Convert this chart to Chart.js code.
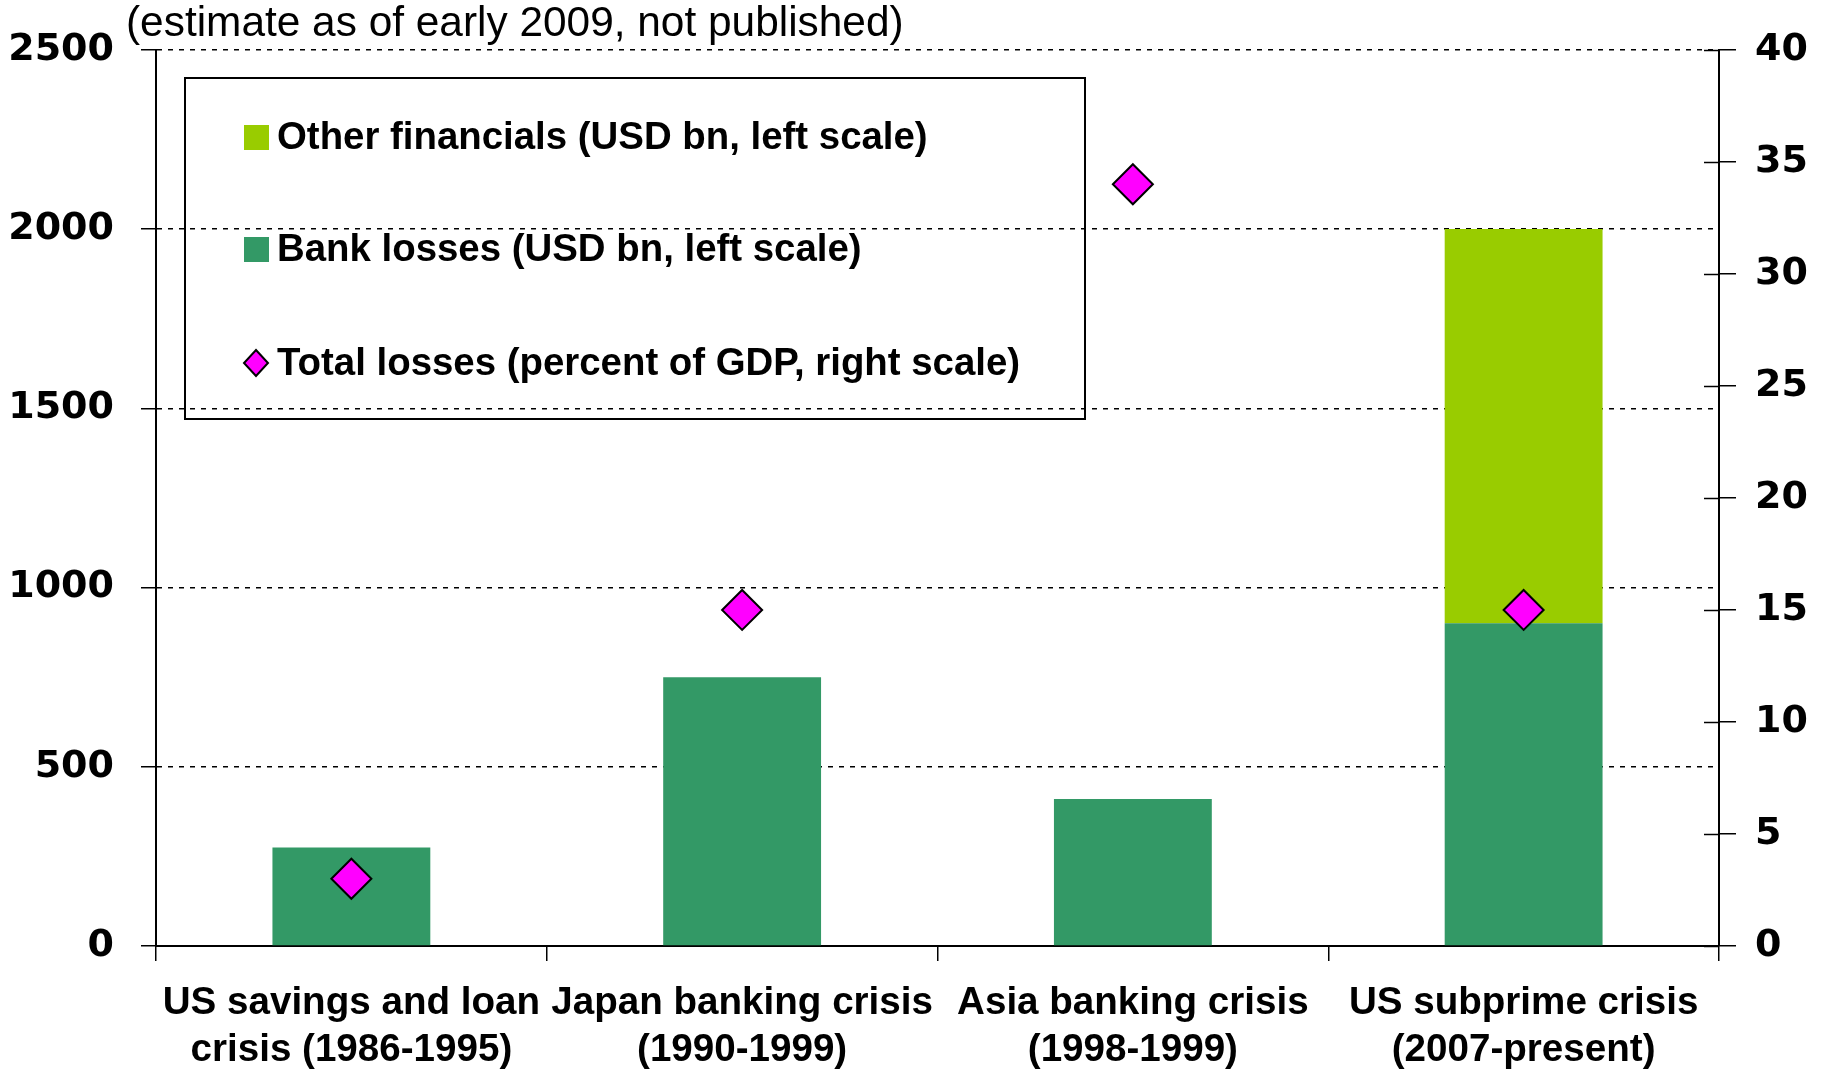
<!DOCTYPE html>
<html><head><meta charset="utf-8">
<script src="https://cdn.jsdelivr.net/npm/chart.js@4/dist/chart.umd.min.js"></script>
<style>html,body{margin:0;padding:0;background:#fff}canvas{display:block}</style>
</head><body>
<canvas id="c" width="1826" height="1071"></canvas>
<script>
// ---- data ----
const categories = [
  ["US savings and loan", "crisis (1986-1995)"],
  ["Japan banking crisis", "(1990-1999)"],
  ["Asia banking crisis", "(1998-1999)"],
  ["US subprime crisis", "(2007-present)"]
];
const bankLosses = [275, 750, 410, 900];
const otherFinancials = [null, null, null, 1100];
const totalLossesPctGDP = [3, 15, 34, 15];
const seriesNames = [
  "Bank losses (USD bn, left scale)",
  "Other financials (USD bn, left scale)",
  "Total losses (percent of GDP, right scale)"
];
const legendOrder = [1, 0, 2];
const leftAxis = { min: 0, max: 2500, step: 500 };
const rightAxis = { min: 0, max: 40, step: 5 };
const note = "(estimate as of early 2009, not published)";

// ---- styles ----
const FONT_TXT = "'Liberation Sans', Arial, sans-serif";
const FONT_NUM = "'DejaVu Sans', sans-serif";
const GREEN = '#339966', LIME = '#99CC00', MAGENTA = '#FF00FF';

const notePlugin = {
  id: 'note',
  afterDraw(chart) {
    const c = chart.ctx;
    c.save();
    c.fillStyle = '#000';
    c.font = `42.4px ${FONT_TXT}`;
    c.textBaseline = 'middle';
    c.textAlign = 'left';
    c.fillText(note, 126, 24);
    c.restore();
  }
};

const rightInnerTicks = {
  id: 'rightInnerTicks',
  afterDraw(chart) {
    const s = chart.scales.y1;
    const c = chart.ctx;
    c.save();
    c.strokeStyle = '#000';
    c.lineWidth = 1.5;
    s.ticks.forEach(t => {
      const y = Math.round(s.getPixelForValue(t.value)) + 0.5;
      c.beginPath();
      c.moveTo(s.left - 15, y);
      c.lineTo(s.left, y);
      c.stroke();
    });
    c.restore();
  }
};

const boxLegend = {
  id: 'boxLegend',
  afterDraw(chart) {
    const c = chart.ctx;
    c.save();
    c.strokeStyle = '#000';
    c.lineWidth = 2;
    c.strokeRect(185, 78, 900, 341);
    const rows = [137, 249, 363];
    legendOrder.forEach((di, i) => {
      const ds = chart.data.datasets[di];
      const y = rows[i];
      if (ds.type === 'bar') {
        c.fillStyle = ds.backgroundColor;
        c.fillRect(244, y - 12, 25, 25);
      } else {
        c.fillStyle = ds.pointBackgroundColor;
        c.strokeStyle = ds.pointBorderColor;
        c.lineWidth = 2;
        c.beginPath();
        c.moveTo(256, y - 13); c.lineTo(256 + 12, y); c.lineTo(256, y + 13); c.lineTo(256 - 12, y); c.closePath();
        c.fill(); c.stroke();
      }
      c.fillStyle = '#000';
      c.font = `bold 38.4px ${FONT_TXT}`;
      c.textBaseline = 'middle';
      c.textAlign = 'left';
      c.fillText(ds.label, 277, y + 1);
    });
    c.restore();
  }
};

const plain = v => String(v);

new Chart(document.getElementById('c').getContext('2d'), {
  data: {
    labels: categories,
    datasets: [
      { type: 'bar', label: seriesNames[0], data: bankLosses, backgroundColor: GREEN,
        yAxisID: 'y', stack: 's', order: 2, barPercentage: 0.404, categoryPercentage: 1 },
      { type: 'bar', label: seriesNames[1], data: otherFinancials, backgroundColor: LIME,
        yAxisID: 'y', stack: 's', order: 2, barPercentage: 0.404, categoryPercentage: 1 },
      { type: 'line', label: seriesNames[2], data: totalLossesPctGDP, yAxisID: 'y1',
        showLine: false, pointStyle: 'rectRot', pointRadius: 20, pointHoverRadius: 20,
        pointBackgroundColor: MAGENTA, pointBorderColor: '#000', pointBorderWidth: 2, order: 1 }
    ]
  },
  options: {
    responsive: false, animation: false, devicePixelRatio: 1,
    layout: { padding: { top: 48, left: 0, right: 0, bottom: 0 } },
    plugins: { legend: { display: false }, tooltip: { enabled: false }, title: { display: false } },
    scales: {
      x: {
        stacked: true, offset: true,
        grid: { display: true, drawOnChartArea: false, drawTicks: true, tickLength: 15, offset: true,
                color: '#000', lineWidth: 1.5 },
        border: { display: true, color: '#000', width: 2 },
        ticks: { color: '#000', font: { family: FONT_TXT, size: 38.6, weight: 'bold', lineHeight: 1.24 },
                 padding: 18, maxRotation: 0, autoSkip: false },
        afterFit: s => { s.height = 125; }
      },
      y: {
        position: 'left', stacked: true, min: leftAxis.min, max: leftAxis.max,
        ticks: { stepSize: leftAxis.step, color: '#000', font: { family: FONT_NUM, size: 38, weight: 'bold' },
                 padding: 27, callback: plain },
        grid: { color: '#000', lineWidth: 1.5, tickLength: 15, drawTicks: true },
        border: { display: true, color: '#000', width: 2, dash: [5, 6] },
        afterFit: s => { s.width = 156; }
      },
      y1: {
        position: 'right', min: rightAxis.min, max: rightAxis.max,
        ticks: { stepSize: rightAxis.step, color: '#000', font: { family: FONT_NUM, size: 38, weight: 'bold' },
                 padding: 19, callback: plain },
        grid: { drawOnChartArea: false, tickLength: 17, color: '#000', lineWidth: 1.5 },
        border: { display: true, color: '#000', width: 2 },
        afterFit: s => { s.width = 107; }
      }
    }
  },
  plugins: [notePlugin, rightInnerTicks, boxLegend]
});
</script>
</body></html>
